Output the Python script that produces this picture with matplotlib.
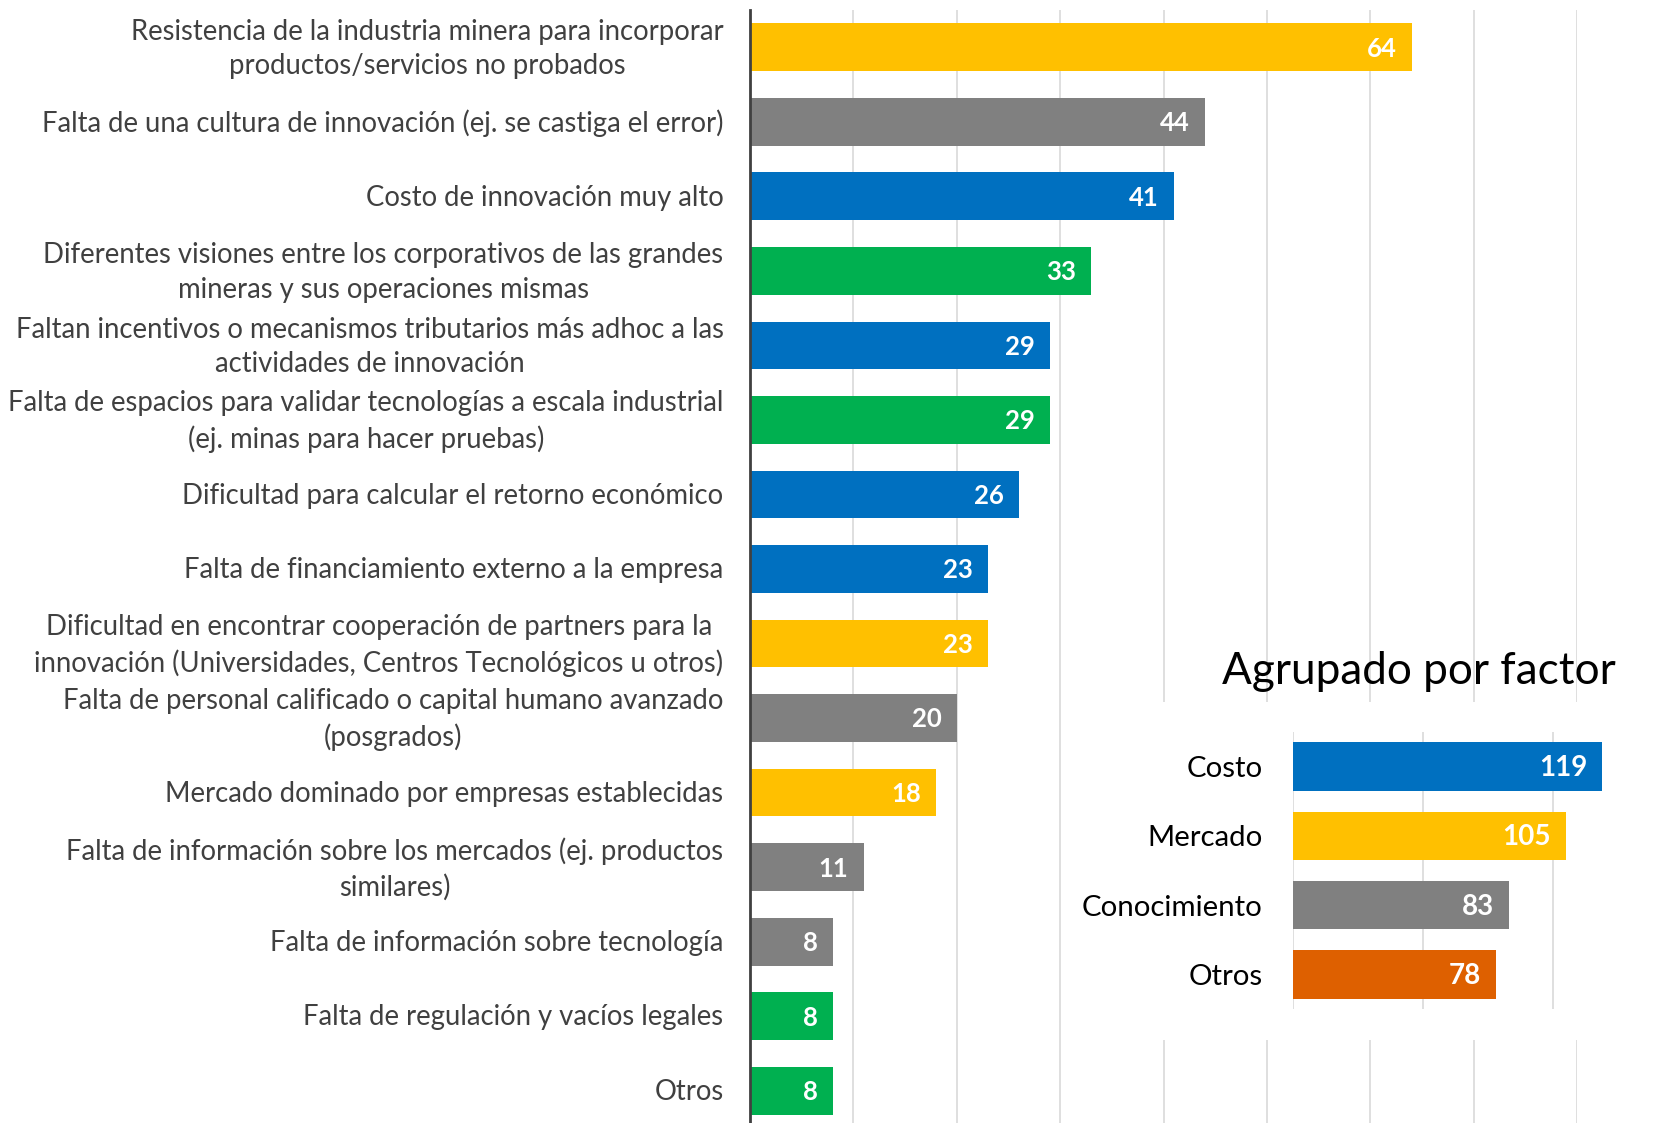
import matplotlib.pyplot as plt
from matplotlib.patches import Rectangle

plt.rcParams['font.family'] = ['Lato', 'DejaVu Sans']

# datos principales (de arriba hacia abajo)
etiquetas = [
    'Resistencia de la industria minera para incorporar\nproductos/servicios no probados',
    'Falta de una cultura de innovación (ej. se castiga el error)',
    'Costo de innovación muy alto',
    'Diferentes visiones entre los corporativos de las grandes\nmineras y sus operaciones mismas',
    'Faltan incentivos o mecanismos tributarios más adhoc a las\nactividades de innovación',
    'Falta de espacios para validar tecnologías a escala industrial\n(ej. minas para hacer pruebas)',
    'Dificultad para calcular el retorno económico',
    'Falta de financiamiento externo a la empresa',
    'Dificultad en encontrar cooperación de partners para la\ninnovación (Universidades, Centros Tecnológicos u otros)',
    'Falta de personal calificado o capital humano avanzado\n(posgrados)',
    'Mercado dominado por empresas establecidas',
    'Falta de información sobre los mercados (ej. productos\nsimilares)',
    'Falta de información sobre tecnología',
    'Falta de regulación y vacíos legales',
    'Otros',
]
valores = [64, 44, 41, 33, 29, 29, 26, 23, 23, 20, 18, 11, 8, 8, 8]
factor = ['Mercado', 'Conocimiento', 'Costo', 'Otros', 'Costo', 'Otros', 'Costo', 'Costo',
          'Mercado', 'Conocimiento', 'Mercado', 'Conocimiento', 'Conocimiento', 'Otros', 'Otros']

# agrupado por factor
grupos = ['Costo', 'Mercado', 'Conocimiento', 'Otros']
totales = [119, 105, 83, 78]

colores = {'Costo': '#0070C0', 'Mercado': '#FFC000', 'Conocimiento': '#808080', 'Otros': '#00B050'}
colores_grupo = ['#0070C0', '#FFC000', '#808080', '#DE6000']

W, H = 1667, 1123
fig = plt.figure(figsize=(W / 100, H / 100), dpi=100)

# grafico principal
ax = fig.add_axes([750 / W, (H - 1128) / H, 827 / W, 1118 / H])
pos = list(range(len(valores)))
ax.barh(pos, valores, height=0.64, color=[colores[f] for f in factor], zorder=2)
ax.set_ylim(len(valores) - 0.5, -0.5)
ax.set_xlim(0, 80)
ax.set_xticks(range(0, 81, 10))
ax.set_yticks(pos)
ax.set_yticklabels([])
ax.tick_params(axis='y', length=0)
ax.tick_params(axis='x', length=0, labelbottom=False)
ax.grid(axis='x', color='#D9D9D9', linewidth=1.2, zorder=0)
for s in ['top', 'right', 'bottom']:
    ax.spines[s].set_visible(False)
ax.spines['left'].set_color('#404040')
ax.spines['left'].set_linewidth(2)
ax.spines['left'].set_zorder(3)

# etiquetas de categorias
for i, lab in enumerate(etiquetas):
    dy = -1.2 if '\n' in lab else -0.9
    ax.annotate(lab, (0, i), xycoords=('axes fraction', 'data'), xytext=(-19, dy),
                textcoords='offset points', ha='right', va='center', multialignment='center',
                linespacing=1.42, fontsize=19.8, color='#404040', annotation_clip=False)

for i, v in enumerate(valores):
    ax.annotate(str(v), (v, i), xytext=(-11, -1), textcoords='offset points',
                ha='right', va='center', color='white', fontsize=18.5, fontweight='bold', zorder=4)

# fondo blanco del recuadro
fig.patches.append(Rectangle((1075 / W, (H - 1040) / H), 592 / W, 338 / H,
                             transform=fig.transFigure, facecolor='white', edgecolor='none', zorder=0.5))

fig.text(1419 / W, (H - 671) / H, 'Agrupado por factor', ha='center', va='center',
         fontsize=31.8, color='black', zorder=2)

# grafico pequeño
ax2 = fig.add_axes([1293 / W, (H - 1009) / H, 364 / W, 277 / H], zorder=1)
ax2.patch.set_alpha(0)
pos2 = list(range(len(totales)))
ax2.barh(pos2, totales, height=0.70, color=colores_grupo, zorder=2)
ax2.set_ylim(len(totales) - 0.5, -0.5)
ax2.set_xlim(0, 140)
ax2.set_xticks([0, 50, 100])
ax2.set_yticks(pos2)
ax2.set_yticklabels(grupos, fontsize=21.2, color='black')
ax2.tick_params(axis='y', length=0, pad=22)
ax2.tick_params(axis='x', length=0, labelbottom=False)
ax2.grid(axis='x', color='#D9D9D9', linewidth=1.2, zorder=0)
for s in ax2.spines.values():
    s.set_visible(False)
for i, v in enumerate(totales):
    ax2.annotate(str(v), (v, i), xytext=(-11, -1), textcoords='offset points',
                 ha='right', va='center', color='white', fontsize=20, fontweight='bold', zorder=4)

fig.savefig('out.png', dpi=100)
